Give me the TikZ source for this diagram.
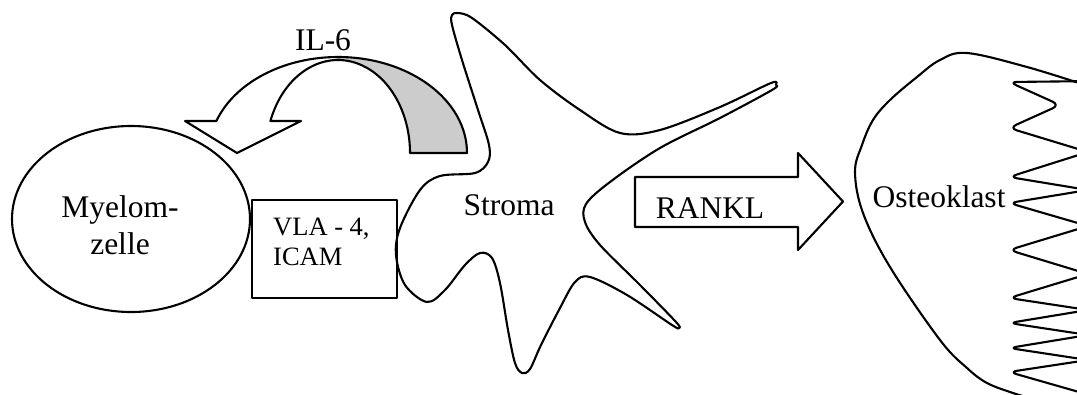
\documentclass[tikz,border=0pt]{standalone}
\usepackage{fontspec}
\setmainfont{Liberation Serif}
\usetikzlibrary{shapes.geometric}
\definecolor{bandgrey}{HTML}{CCCCCC}
\begin{document}
\begin{tikzpicture}[x=1pt,y=1pt,
  outline/.style={draw=black, line width=2.1pt, line join=round},
  bigtext/.style={inner sep=0pt, font=\fontsize{31.5}{37}\selectfont, align=center},
  smalltext/.style={inner sep=0pt, font=\fontsize{26.5}{30}\selectfont, align=left}]
\useasboundingbox (0,0) rectangle (1077,-394);
\clip (0,0) rectangle (1077,-394);

% myeloma cell
\node[outline, ellipse, minimum width=238, minimum height=186, inner sep=0pt] (myelom) at (131,-219) {};
\node[bigtext, anchor=north] (myelomtext) at (120,-195.5) {Myelom-\\zelle};

% adhesion molecules
\node[outline, rectangle, minimum width=145, minimum height=98, inner sep=0pt, anchor=north west] (vla) at (251,-199) {};
\node[smalltext, anchor=north west] (vlatext) at (273,-217.5) {VLA - 4,\\ICAM};

% curved IL-6 arrow: shaded back band, then the outline
\fill[bandgrey] (467,-153) arc[start angle=0, end angle=90, x radius=129, y radius=96]
  -- (338,-60) arc[start angle=90, end angle=0, x radius=72, y radius=93] -- cycle;
\draw[outline] (467,-153) arc[start angle=0, end angle=160.53, x radius=129, y radius=96]
  -- (185,-121) -- (237,-153) -- (301,-121) -- (270.4,-121)
  arc[start angle=159.87, end angle=0, x radius=72, y radius=93] -- cycle;
\node[bigtext, anchor=base] (il6) at (323,-50) {IL-6};

% stromal cell
\draw[outline] plot[smooth cycle, tension=0.55] coordinates {
  (458,-13) (472,-18) (505,-45) (540,-80) (580,-110) (620,-133) (660,-130)
  (720,-107) (771,-83) (776,-85) (772,-90) (720,-118) (660,-148) (610,-182)
  (586,-204) (585,-222) (600,-245) (640,-285) (676,-322) (679,-328) (672,-325)
  (627,-295) (590,-277) (575,-282) (560,-308) (541,-345) (530,-369) (522,-373)
  (515,-363) (508,-330) (500,-283) (492,-258) (480,-253) (465,-265) (445,-290)
  (427,-302) (405,-285) (396,-255) (400,-228) (420,-190) (440,-176) (475,-173)
  (488,-162) (489,-145) (478,-110) (462,-60) (452,-25) (452,-15)};
\node[bigtext, anchor=base] (stroma) at (509,-215) {Stroma};

% RANKL block arrow
\draw[outline] (635,-177) -- (798,-177) -- (798,-153) -- (843,-201.5)
  -- (798,-250) -- (798,-227) -- (635,-227) -- cycle;
\node[bigtext, anchor=base] (rankl) at (710,-218) {RANKL};

% osteoclast body
\draw[outline] plot[smooth, tension=0.6] coordinates {
  (1085,-85) (1027,-67) (967,-53) (940,-60) (917,-77) (890,-100) (873,-120)
  (862,-145) (855,-172) (863,-213) (890,-267) (940,-340) (967,-368) (987,-383)
  (1013,-393) (1030,-398)};
% ruffled border
\draw[outline, rounded corners=8pt] (1100,-81) -- (1009,-82) -- (1060,-105)
  -- (1009,-128) -- (1088,-152) -- (1009,-177) -- (1088,-190)
  -- (1009,-203) -- (1088,-226) -- (1009,-250) -- (1088,-274)
  -- (1009,-298) -- (1088,-310) -- (1009,-323) -- (1088,-335)
  -- (1009,-348) -- (1088,-360) -- (1009,-372) -- (1100,-398);
\node[bigtext, anchor=base] (osteo) at (939,-207) {Osteoklast};
\end{tikzpicture}
\end{document}
